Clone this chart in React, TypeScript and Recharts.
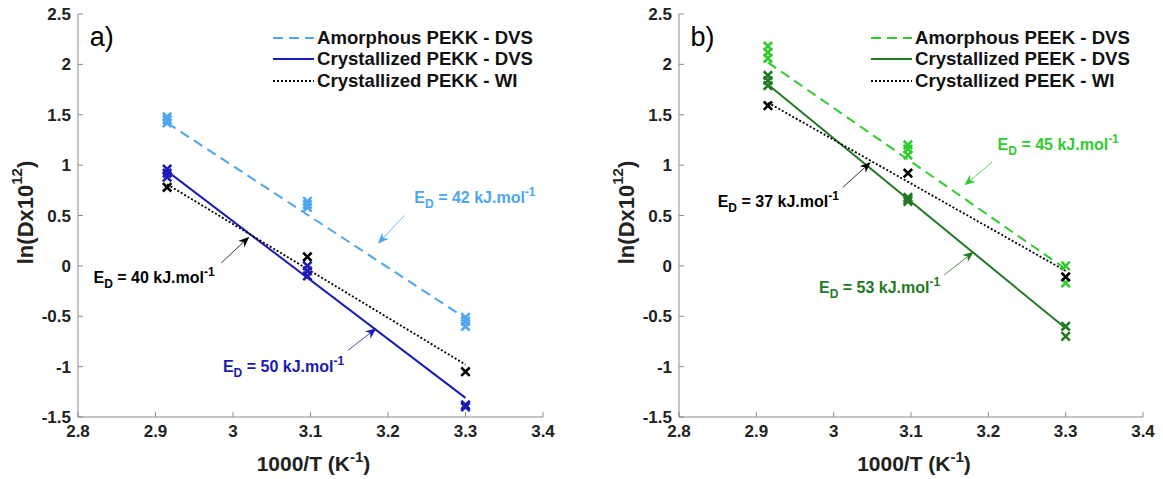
import React from 'react';
import {
  ComposedChart,
  Line,
  Scatter,
  XAxis,
  YAxis,
  Legend,
  ReferenceDot,
  ReferenceLine,
  Label,
} from 'recharts';

const FONT = '"Liberation Sans", Arial, sans-serif';
const AXIS_GREY = '#8a8a8a';

// 1000/T values of the three temperatures, and the ends of the fitted lines
const invT = [2.915, 3.096, 3.3];
const fitX = [2.915, 3.3];

const xTicks = [2.8, 2.9, 3, 3.1, 3.2, 3.3, 3.4];
const yTicks = [-1.5, -1, -0.5, 0, 0.5, 1, 1.5, 2, 2.5];

// panel a) PEKK - ln(D x 10^12) measured at each 1000/T
const pekkAmorphDvs = [[1.42, 1.45, 1.48], [0.58, 0.61, 0.64], [-0.51, -0.55, -0.6]];
const pekkCrystDvs = [[0.88, 0.92, 0.96], [0.0, -0.05, -0.1], [-1.38, -1.4]];
const pekkCrystWi = [[0.78], [0.09], [-1.05]];
const pekkAmorphDvsFit = [1.42, -0.52];
const pekkCrystDvsFit = [0.94, -1.31];
const pekkCrystWiFit = [0.81, -0.98];

// panel b) PEEK
const peekAmorphDvs = [[2.06, 2.12, 2.18], [1.1, 1.16, 1.2], [0.0, -0.17]];
const peekCrystDvs = [[1.79, 1.84, 1.89], [0.64, 0.66, 0.68], [-0.6, -0.7]];
const peekCrystWi = [[1.59], [0.92], [-0.11]];
const peekAmorphDvsFit = [2.02, -0.03];
const peekCrystDvsFit = [1.8, -0.62];
const peekCrystWiFit = [1.62, -0.05];

const toPoints = (vals: number[][]) =>
  invT.flatMap((x, i) => vals[i].map((y) => ({ x, y })));
const toFit = (vals: number[]) => fitX.map((x, i) => ({ x, y: vals[i] }));

const C = {
  lightBlue: '#4da6f2',
  darkBlue: '#1a1ab4',
  lightGreen: '#2ecc2e',
  darkGreen: '#217a21',
  black: '#000000',
};

const dashStyle: Record<string, string | undefined> = {
  dashed: '10 6',
  solid: undefined,
  dotted: '2 2',
};

const xMark = (color: string) => (props: any) => {
  const { cx, cy } = props;
  const s = 4.2;
  return (
    <path
      d={`M${cx - s},${cy - s}L${cx + s},${cy + s}M${cx - s},${cy + s}L${cx + s},${cy - s}`}
      stroke={color}
      strokeWidth={2.6}
      fill="none"
    />
  );
};

const arrowShape = (color: string) => (props: any) => {
  const { x1, y1, x2, y2 } = props;
  const a = Math.atan2(y2 - y1, x2 - x1);
  const L = 11;
  const W = 4.5;
  const bx = x2 - L * Math.cos(a);
  const by = y2 - L * Math.sin(a);
  const nx = x2 - L * 0.7 * Math.cos(a);
  const ny = y2 - L * 0.7 * Math.sin(a);
  const px = -Math.sin(a) * W;
  const py = Math.cos(a) * W;
  return (
    <g>
      <line x1={x1} y1={y1} x2={nx} y2={ny} stroke={color} strokeWidth={1} opacity={0.8} />
      <path
        d={`M${x2},${y2}L${bx + px},${by + py}L${nx},${ny}L${bx - px},${by - py}Z`}
        fill={color}
      />
    </g>
  );
};

const energyText = (value: number, color: string) => (props: any) => (
  <text x={props.cx} y={props.cy} fill={color} fontFamily={FONT} fontWeight="bold" fontSize={16}>
    E
    <tspan fontSize={12} dy={5}>D</tspan>
    <tspan dy={-5}>{` = ${value} kJ.mol`}</tspan>
    <tspan fontSize={12} dy={-7}>-1</tspan>
  </text>
);

const panelLetter = (letter: string) => (props: any) => (
  <text x={props.cx} y={props.cy} fill="#000" fontFamily={FONT} fontSize={27}>
    {letter}
  </text>
);

const YTitle = (props: any) => {
  const { x, y, width, height } = props.viewBox;
  const cx = x + width - 53;
  const cy = y + height / 2 - 3;
  return (
    <text
      transform={`translate(${cx},${cy}) rotate(-90)`}
      textAnchor="middle"
      dominantBaseline="central"
      fontFamily={FONT}
      fontWeight="bold"
      fontSize={22}
      fill="#222"
    >
      ln(Dx10
      <tspan fontSize={15} dy={-9}>12</tspan>
      <tspan dy={9}>)</tspan>
    </text>
  );
};

const XTitle = (props: any) => {
  const { x, y, width } = props.viewBox;
  return (
    <text
      x={x + width / 2 + 3}
      y={y + 54}
      textAnchor="middle"
      fontFamily={FONT}
      fontWeight="bold"
      fontSize={21}
      fill="#222"
    >
      1000/T (K
      <tspan fontSize={15} dy={-9}>-1</tspan>
      <tspan dy={9}>)</tspan>
    </text>
  );
};

interface SeriesDef {
  name: string;
  color: string;
  style: 'dashed' | 'solid' | 'dotted';
  points: number[][];
  fit: number[];
}

interface NoteDef {
  value: number;
  color: string;
  tx: number;
  ty: number;
  from: [number, number];
  to: [number, number];
}

const pekkSeries: SeriesDef[] = [
  { name: 'Amorphous PEKK - DVS', color: C.lightBlue, style: 'dashed', points: pekkAmorphDvs, fit: pekkAmorphDvsFit },
  { name: 'Crystallized PEKK - DVS', color: C.darkBlue, style: 'solid', points: pekkCrystDvs, fit: pekkCrystDvsFit },
  { name: 'Crystallized PEKK - WI', color: C.black, style: 'dotted', points: pekkCrystWi, fit: pekkCrystWiFit },
];

const peekSeries: SeriesDef[] = [
  { name: 'Amorphous PEEK - DVS', color: C.lightGreen, style: 'dashed', points: peekAmorphDvs, fit: peekAmorphDvsFit },
  { name: 'Crystallized PEEK - DVS', color: C.darkGreen, style: 'solid', points: peekCrystDvs, fit: peekCrystDvsFit },
  { name: 'Crystallized PEEK - WI', color: C.black, style: 'dotted', points: peekCrystWi, fit: peekCrystWiFit },
];

const pekkNotes: NoteDef[] = [
  { value: 42, color: C.lightBlue, tx: 3.234, ty: 0.62, from: [3.221, 0.5], to: [3.187, 0.22] },
  { value: 40, color: C.black, tx: 2.82, ty: -0.17, from: [2.985, 0.03], to: [3.021, 0.29] },
  { value: 50, color: C.darkBlue, tx: 2.987, ty: -1.05, from: [3.148, -0.84], to: [3.185, -0.62] },
];

const peekNotes: NoteDef[] = [
  { value: 45, color: C.lightGreen, tx: 3.212, ty: 1.15, from: [3.205, 1.03], to: [3.169, 0.8] },
  { value: 37, color: C.black, tx: 2.85, ty: 0.58, from: [3.012, 0.78], to: [3.048, 1.03] },
  { value: 53, color: C.darkGreen, tx: 2.981, ty: -0.27, from: [3.143, -0.09], to: [3.181, 0.14] },
];

const LegendBox = ({ series }: { series: SeriesDef[] }) => (
  <div style={{ fontFamily: FONT, fontWeight: 'bold', fontSize: 18.6, color: '#111' }}>
    {series.map((s) => (
      <div key={s.name} style={{ display: 'flex', alignItems: 'center', height: 21.5, whiteSpace: 'nowrap' }}>
        <svg width={42} height={10} style={{ display: 'block' }}>
          <line
            x1={0}
            x2={41}
            y1={5}
            y2={5}
            stroke={s.color}
            strokeWidth={2}
            strokeDasharray={dashStyle[s.style]}
          />
        </svg>
        <span style={{ marginLeft: 2 }}>{s.name}</span>
      </div>
    ))}
  </div>
);

interface PanelProps {
  width: number;
  yAxisWidth: number;
  marginRight: number;
  letter: string;
  series: SeriesDef[];
  notes: NoteDef[];
  legendLeft: number;
}

function Panel({ width, yAxisWidth, marginRight, letter, series, notes, legendLeft }: PanelProps) {
  const tickStyle = { fill: '#222', fontSize: 17, fontWeight: 'bold', fontFamily: FONT };
  return (
    <ComposedChart width={width} height={479} margin={{ top: 14, right: marginRight, bottom: 0, left: 0 }}>
      <XAxis
        type="number"
        dataKey="x"
        domain={[2.8, 3.4]}
        ticks={xTicks}
        allowDataOverflow
        height={62}
        stroke={AXIS_GREY}
        tickSize={-5}
        tickMargin={13}
        tick={tickStyle}
      >
        <Label content={XTitle} />
      </XAxis>
      <XAxis
        xAxisId="top"
        orientation="top"
        type="number"
        domain={[2.8, 3.4]}
        ticks={xTicks}
        allowDataOverflow
        height={0}
        stroke={AXIS_GREY}
        tickSize={-5}
        tick={() => <g />}
      />
      <YAxis
        type="number"
        domain={[-1.5, 2.5]}
        ticks={yTicks}
        allowDataOverflow
        width={yAxisWidth}
        stroke={AXIS_GREY}
        tickSize={-5}
        tickMargin={12}
        tick={tickStyle}
      >
        <Label content={YTitle} />
      </YAxis>
      <YAxis
        yAxisId="right"
        orientation="right"
        type="number"
        domain={[-1.5, 2.5]}
        ticks={yTicks}
        allowDataOverflow
        width={0}
        stroke={AXIS_GREY}
        tickSize={-5}
        tick={() => <g />}
      />
      <Legend
        layout="vertical"
        align="center"
        verticalAlign="middle"
        wrapperStyle={{ top: 27, left: legendLeft, width: 'auto' }}
        content={() => <LegendBox series={series} />}
      />
      {series.map((s) => (
        <Line
          key={`fit-${s.name}`}
          data={toFit(s.fit)}
          dataKey="y"
          name={s.name}
          type="linear"
          stroke={s.color}
          strokeWidth={s.style === 'dotted' ? 1.8 : 2}
          strokeDasharray={dashStyle[s.style]}
          dot={false}
          activeDot={false}
          isAnimationActive={false}
        />
      ))}
      {series.map((s) => (
        <Scatter
          key={`pts-${s.name}`}
          data={toPoints(s.points)}
          dataKey="y"
          shape={xMark(s.color)}
          legendType="none"
          isAnimationActive={false}
        />
      ))}
      {notes.map((n) => (
        <ReferenceLine
          key={`arrow-${n.value}`}
          segment={[{ x: n.from[0], y: n.from[1] }, { x: n.to[0], y: n.to[1] }]}
          ifOverflow="visible"
          shape={arrowShape(n.color)}
        />
      ))}
      {notes.map((n) => (
        <ReferenceDot
          key={`note-${n.value}`}
          x={n.tx}
          y={n.ty}
          r={0}
          ifOverflow="visible"
          shape={energyText(n.value, n.color)}
        />
      ))}
      <ReferenceDot x={2.815} y={2.18} r={0} ifOverflow="visible" shape={panelLetter(letter)} />
    </ComposedChart>
  );
}

export default function App() {
  return (
    <div
      style={{
        position: 'absolute',
        left: 0,
        top: 0,
        width: 1163,
        height: 479,
        display: 'flex',
        background: '#fff',
      }}
    >
      <Panel width={580} yAxisWidth={78} marginRight={37} letter="a)" series={pekkSeries} notes={pekkNotes} legendLeft={273} />
      <Panel width={583} yAxisWidth={99} marginRight={20} letter="b)" series={peekSeries} notes={peekNotes} legendLeft={291} />
    </div>
  );
}
